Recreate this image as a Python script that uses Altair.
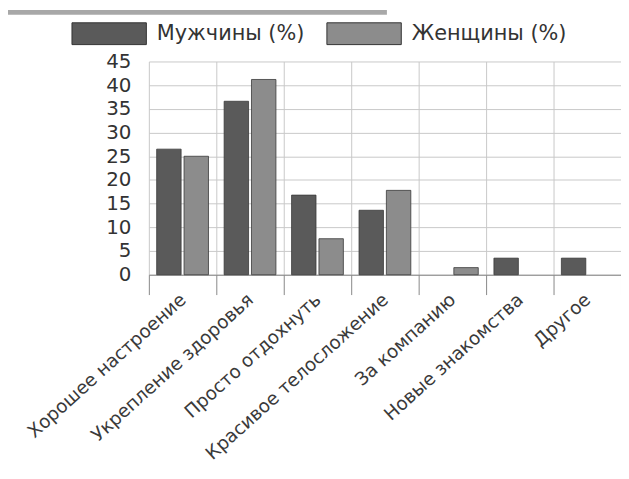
import altair as alt
import pandas as pd

categories = ["Хорошее настроение", "Укрепление здоровья", "Просто отдохнуть",
              "Красивое телосложение", "За компанию", "Новые знакомства", "Другое"]
men = [26.5, 36.6, 16.8, 13.6, 0, 3.5, 3.5]
women = [25.0, 41.2, 7.6, 17.8, 1.5, 0, 0]
series = ["Мужчины (%)", "Женщины (%)"]
y_ticks = [0, 5, 10, 15, 20, 25, 30, 35, 40, 45]

rows = []
for c, m, w in zip(categories, men, women):
    rows.append({"cat": c, "series": series[0], "value": m})
    rows.append({"cat": c, "series": series[1], "value": w})
df = pd.DataFrame(rows)

FONT = "DejaVu Sans"

bars = alt.Chart(df).mark_bar(stroke="#3a3a3a").encode(
    x=alt.X("cat:N", sort=categories, title=None,
            scale=alt.Scale(paddingInner=0, paddingOuter=0),
            axis=alt.Axis(tickBand="extent", grid=True, gridColor="#c8c8c8",
                          domainColor="#888888", tickColor="#888888", tickSize=20,
                          labelAngle=-42, labelAlign="right", labelBaseline="middle",
                          labelFontSize=18.5, labelColor="#3a3a3a", labelFont=FONT,
                          labelPadding=2, labelLimit=400)),
    xOffset=alt.XOffset("series:N", sort=series,
                        scale=alt.Scale(paddingInner=0.107, paddingOuter=0.286)),
    y=alt.Y("value:Q", title=None,
            scale=alt.Scale(domain=[0, 45], nice=False),
            axis=alt.Axis(values=y_ticks, grid=True, gridColor="#c8c8c8",
                          domain=False, ticks=False, labelPadding=18,
                          labelFontSize=20, labelColor="#333333", labelFont=FONT)),
    color=alt.Color("series:N", sort=series,
                    scale=alt.Scale(domain=series, range=["#5a5a5a", "#8c8c8c"]),
                    legend=alt.Legend(orient="none", legendX=-78, legendY=-66,
                                      direction="horizontal", title=None,
                                      symbolType="M-1,-0.293H1V0.293H-1Z",
                                      symbolSize=5625, symbolStrokeColor="#333333",
                                      symbolStrokeWidth=1, labelFontSize=21,
                                      labelFont=FONT, labelColor="#333333",
                                      labelOffset=10, columnPadding=20,
                                      labelLimit=300)),
    strokeWidth=alt.condition(alt.datum.value > 0, alt.value(0.8), alt.value(0)),
)

band = alt.Chart(pd.DataFrame({"a": [0]})).mark_rect(color="#a8a8a8").encode(
    x=alt.value(-142), x2=alt.value(240), y=alt.value(-52), y2=alt.value(-47)
)

chart = alt.layer(band, bars).properties(
    width=476, height=215,
    padding={"left": 142, "top": 52, "right": 0, "bottom": 200},
    autosize=alt.AutoSizeParams(type="none"),
).configure_view(stroke=None)

chart.save("out.html", embed_options={"renderer": "svg", "actions": False})
